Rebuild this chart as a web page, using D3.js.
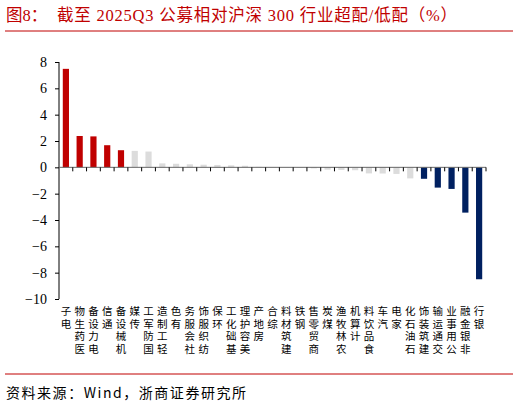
<!DOCTYPE html>
<html><head><meta charset="utf-8">
<script src="https://cdn.jsdelivr.net/npm/d3@7"></script>
<style>html,body{margin:0;padding:0;background:#fff;}svg{display:block;}</style>
</head><body>
<svg id="chart" width="520" height="405"></svg>
<script>
const categories = ["电子","医药生物","电力设备","通信","机械设备","传媒","国防军工","轻工制造","有色","社会服务","纺织服饰","环保","基础化工","美容护理","房地产","综合","建筑材料","钢铁","商贸零售","煤炭","农林牧渔","计算机","食品饮料","汽车","家电","石油石化","建筑装饰","交通运输","公用事业","非银金融","银行"];
const values = [7.48,2.38,2.35,1.68,1.30,1.25,1.20,0.30,0.27,0.23,0.20,0.18,0.15,0.12,0.04,0.02,-0.02,-0.03,-0.08,-0.18,-0.20,-0.22,-0.46,-0.47,-0.50,-0.84,-0.87,-1.54,-1.64,-3.44,-8.50];
const yTicks = [-10,-8,-6,-4,-2,0,2,4,6,8];
const titlePrefix = "图8：";
const titleText = "截至 2025Q3 公募相对沪深 300 行业超配/低配（%）";
const sourceText = "资料来源：Wind，浙商证券研究所";

const svg = d3.select("#chart");
const serif = "'Liberation Serif','Times New Roman','Noto Sans CJK SC',serif";
const cjk = "'Noto Sans CJK SC','Liberation Serif',sans-serif";
const RED = "#C00000", NAVY = "#002060", GREY = "#DCDCDC";

// title
svg.append("text").attr("x",6).attr("y",21).attr("fill",RED)
  .attr("font-family",serif).attr("font-size",16.5).text(titlePrefix);
svg.append("text").attr("x",57).attr("y",21).attr("fill",RED)
  .attr("font-family",serif).attr("font-size",16.5)
  .attr("textLength",400).attr("lengthAdjust","spacing").text(titleText);
svg.append("line").attr("x1",5).attr("x2",513).attr("y1",31).attr("y2",31)
  .attr("stroke",RED).attr("stroke-width",1);

const x = d3.scaleBand().domain(categories).range([59,486]).paddingInner(0.55).paddingOuter(0.275);
const y = d3.scaleLinear().domain([-10,8]).range([299,62]);

// bars
const n = categories.length;
svg.append("g").selectAll("rect").data(categories).join("rect")
  .attr("x",d=>x(d))
  .attr("width",x.bandwidth())
  .attr("y",(d,i)=>y(Math.max(0,values[i])))
  .attr("height",(d,i)=>Math.abs(y(values[i])-y(0)))
  .attr("fill",(d,i)=> i<5 ? RED : (i>=n-5 ? NAVY : GREY));

// y axis
const yAxis = svg.append("g").attr("transform","translate(59,0)")
  .call(d3.axisLeft(y).tickValues(yTicks).tickSize(4).tickPadding(8).tickFormat(d3.format("d")));
yAxis.select(".domain").attr("stroke","#000").attr("d","M0,"+y(-10)+"V"+y(8));
yAxis.selectAll(".tick line").attr("stroke","#000");
yAxis.selectAll("text").attr("font-family",serif).attr("font-size",14).attr("fill","#000");

// x axis line at zero with boundary ticks
const step = x.step();
const x0 = x.range()[0];
const xAxisG = svg.append("g");
xAxisG.append("line").attr("x1",x0).attr("x2",x.range()[1]).attr("y1",y(0)).attr("y2",y(0))
  .attr("stroke","#666").attr("stroke-width",1);
xAxisG.selectAll("line.tk").data(d3.range(1,n+1)).join("line").attr("class","tk")
  .attr("x1",i=>x0+i*step).attr("x2",i=>x0+i*step)
  .attr("y1",y(0)).attr("y2",y(0)+4).attr("stroke","#000");

// category labels: upright glyphs stacked vertically, reading bottom-to-top (last char at top)
svg.append("g").selectAll("text").data(categories).join("text")
  .attr("font-family",cjk).attr("font-size",10.5).attr("fill","#000")
  .style("writing-mode","vertical-rl").style("letter-spacing","2px")
  .attr("x",d=>x(d)+x.bandwidth()/2).attr("y",306)
  .text(d=>Array.from(d).reverse().join(""));

// bottom line and source
svg.append("line").attr("x1",5).attr("x2",513).attr("y1",374).attr("y2",374)
  .attr("stroke",RED).attr("stroke-width",1);
svg.append("text").attr("x",6).attr("y",398).attr("fill","#000")
  .attr("font-family",cjk).attr("font-size",14)
  .attr("textLength",240).attr("lengthAdjust","spacing").text(sourceText);
</script>
</body></html>
